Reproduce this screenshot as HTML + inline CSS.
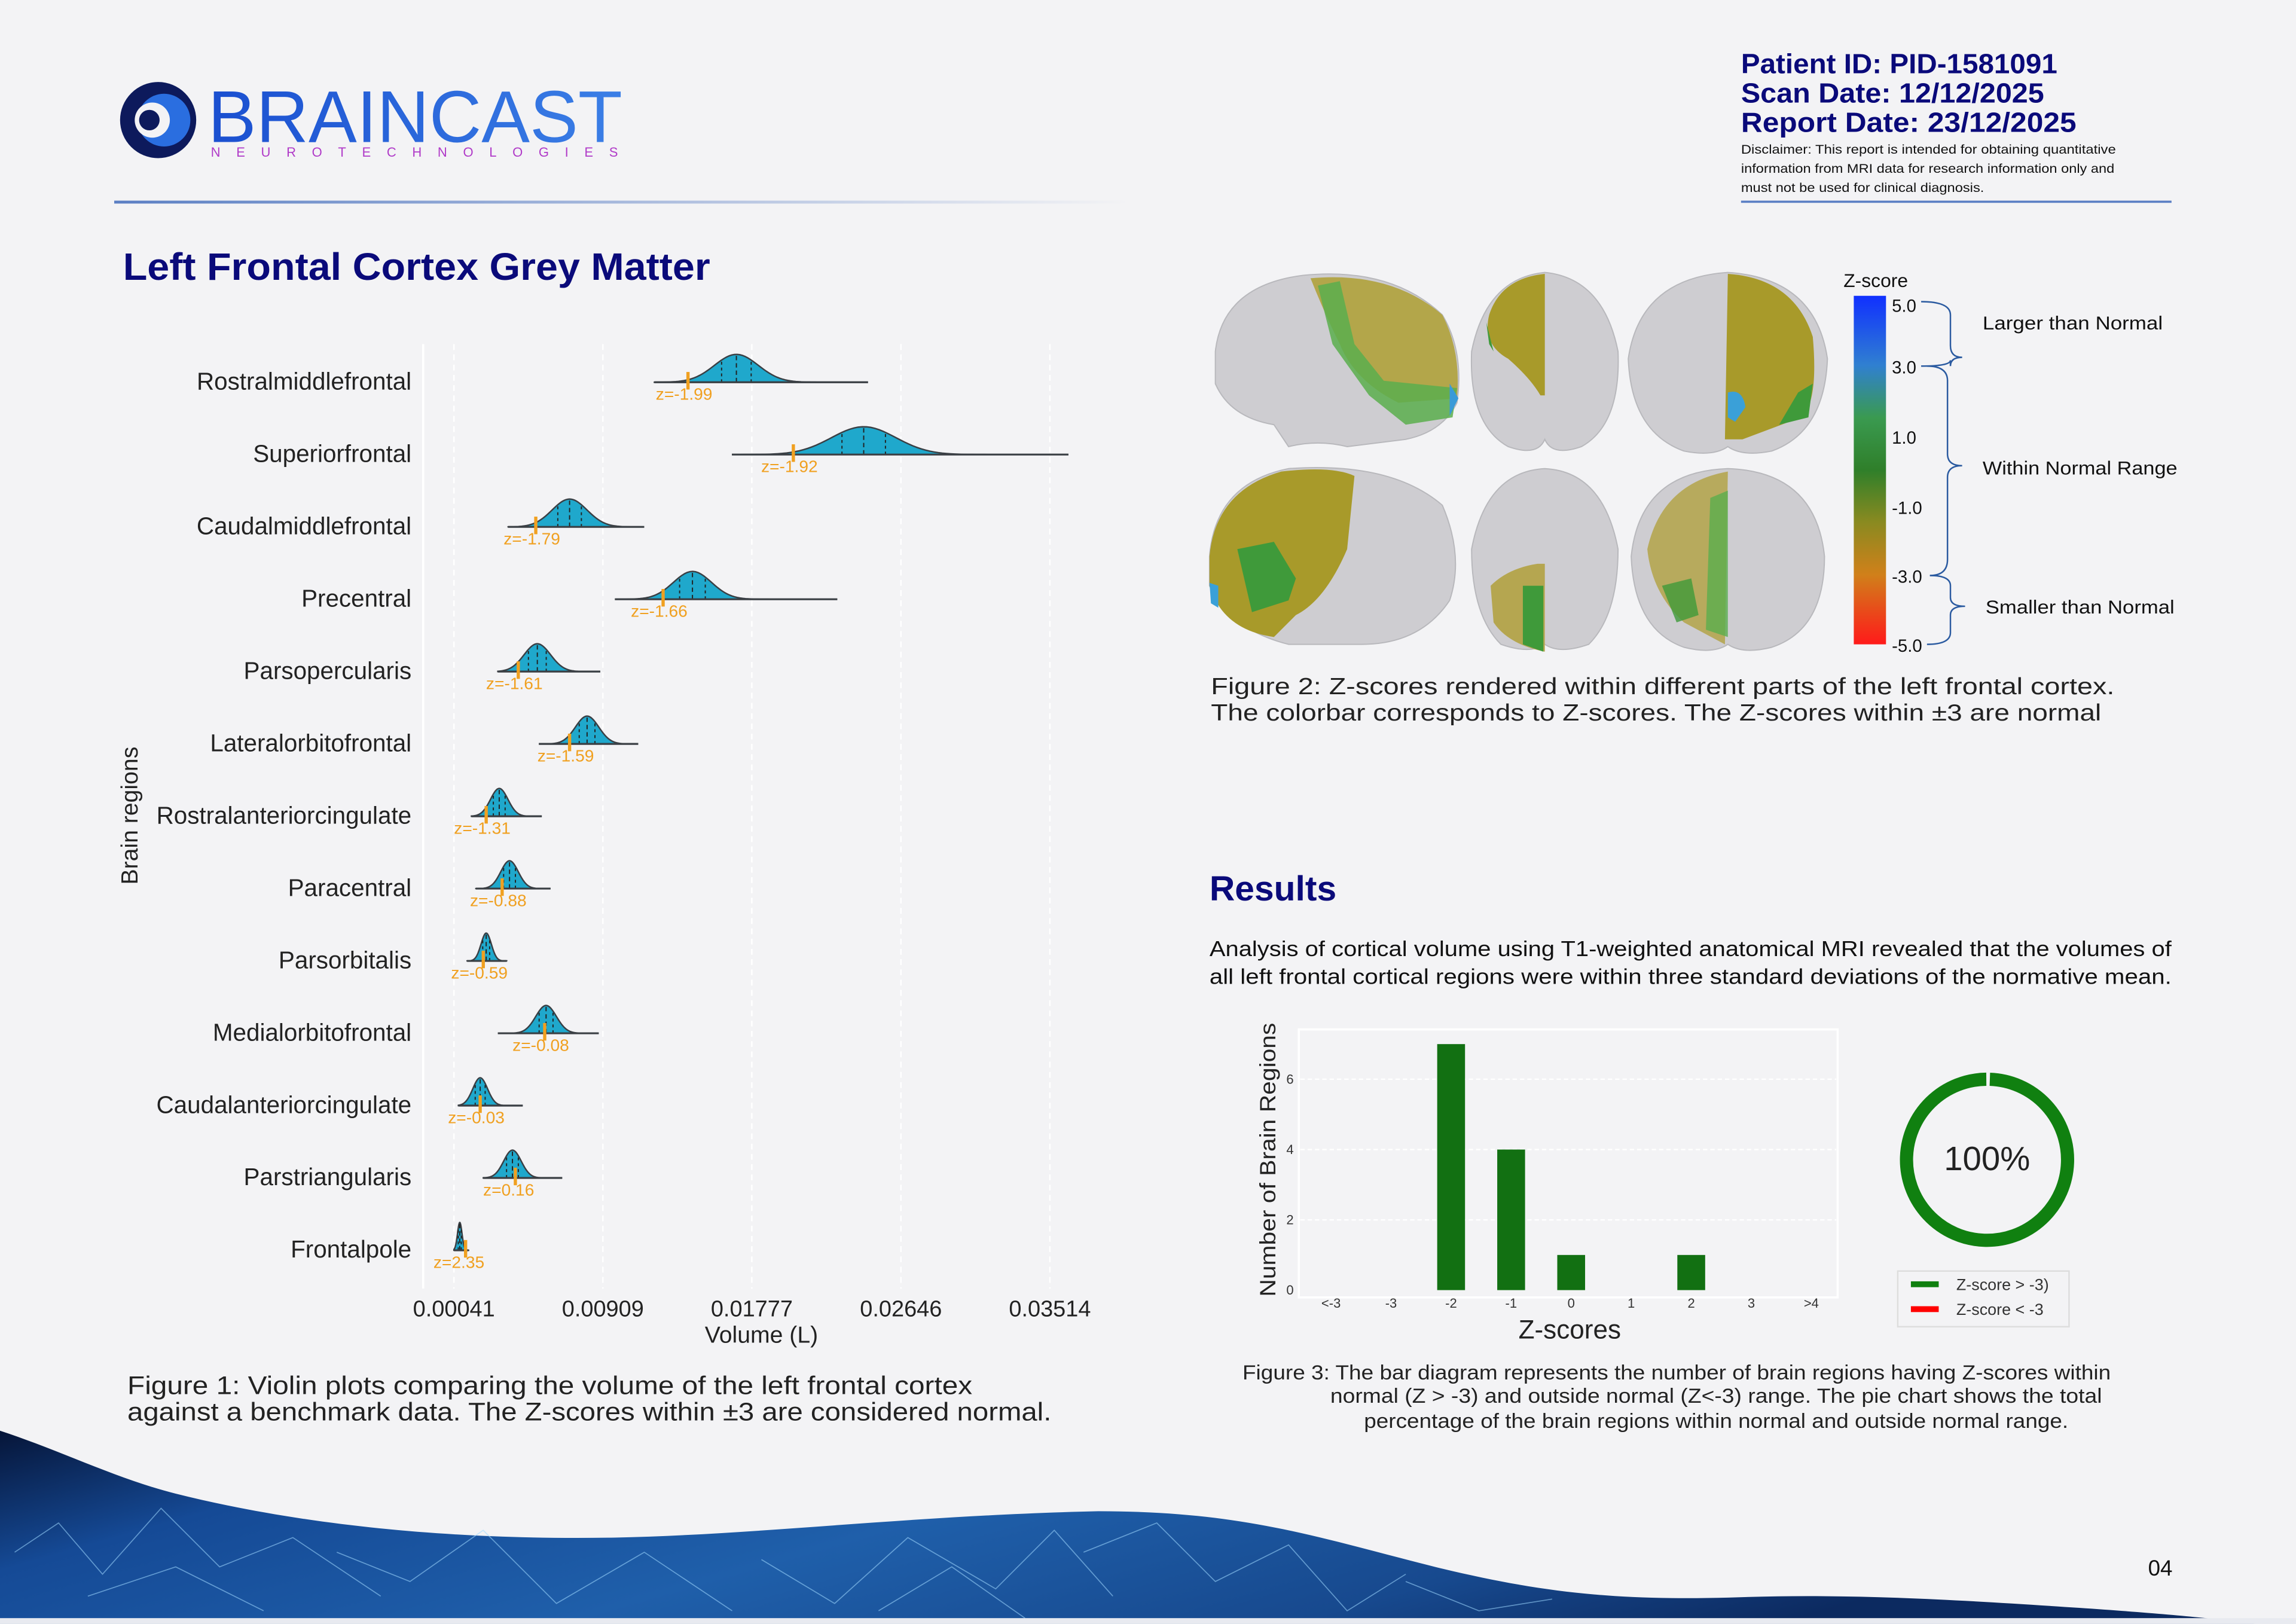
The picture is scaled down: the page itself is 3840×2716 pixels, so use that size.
<!DOCTYPE html>
<html><head><meta charset="utf-8"><style>
html,body{margin:0;padding:0;background:#f3f3f5;}
svg{display:block;font-family:"Liberation Sans",sans-serif;}
</style></head><body>
<svg id="page" xmlns="http://www.w3.org/2000/svg" width="3840" height="2716" viewBox="0 0 1568 1109">
<defs>
<linearGradient id="sep" x1="0" x2="1"><stop offset="0" stop-color="#5b7fc4"/><stop offset="1" stop-color="#5b7fc4" stop-opacity="0"/></linearGradient>
<linearGradient id="cbar" x1="0" y1="0" x2="0" y2="1"><stop offset="0" stop-color="#1030ff"/><stop offset="0.2" stop-color="#3080d0"/><stop offset="0.35" stop-color="#3a9a50"/><stop offset="0.5" stop-color="#2f7f2a"/><stop offset="0.65" stop-color="#8a8a20"/><stop offset="0.8" stop-color="#d0801a"/><stop offset="1" stop-color="#ff1a1a"/></linearGradient>
<linearGradient id="wave" x1="0" y1="0" x2="1" y2="0.3"><stop offset="0" stop-color="#061538"/><stop offset="0.2" stop-color="#154a96"/><stop offset="0.5" stop-color="#1f5faa"/><stop offset="0.8" stop-color="#17498e"/><stop offset="1" stop-color="#0c2a60"/></linearGradient>
<linearGradient id="logoG" x1="0" x2="1"><stop offset="0" stop-color="#1a4fd0"/><stop offset="1" stop-color="#3b7fe6"/></linearGradient>
</defs>
<rect width="1568" height="1109" fill="#f3f3f5"/>

<!-- header -->
<g>
<circle cx="108" cy="82" r="26" fill="#0d1a5c"/>
<circle cx="112" cy="82" r="18" fill="#2a6ee0"/>
<circle cx="104" cy="82" r="12" fill="#f3f3f5"/>
<circle cx="102" cy="82" r="7" fill="#0d1a5c"/>
<text x="142" y="97" font-size="50" fill="url(#logoG)" textLength="283" lengthAdjust="spacingAndGlyphs">BRAINCAST</text>
<text x="144" y="107" font-size="9" fill="#b03ac8" textLength="278" lengthAdjust="spacing">NEUROTECHNOLOGIES</text>
</g>
<rect x="78" y="137" width="692" height="2" fill="url(#sep)"/>
<g font-weight="bold" font-size="19" fill="#0a0a7a">
<text x="1189" y="50" textLength="216" lengthAdjust="spacingAndGlyphs">Patient ID: PID-1581091</text>
<text x="1189" y="70" textLength="207" lengthAdjust="spacingAndGlyphs">Scan Date: 12/12/2025</text>
<text x="1189" y="90" textLength="229" lengthAdjust="spacingAndGlyphs">Report Date: 23/12/2025</text>
</g>
<g font-size="8.6" fill="#111">
<text x="1189" y="105" textLength="256" lengthAdjust="spacingAndGlyphs">Disclaimer: This report is intended for obtaining quantitative</text>
<text x="1189" y="118" textLength="255" lengthAdjust="spacingAndGlyphs">information from MRI data for research information only and</text>
<text x="1189" y="131" textLength="166" lengthAdjust="spacingAndGlyphs">must not be used for clinical diagnosis.</text>
</g>
<rect x="1189" y="137" width="294" height="1.5" fill="#5b7fc4"/>

<text x="84" y="191" font-size="26" font-weight="bold" fill="#0a0a7a" textLength="401" lengthAdjust="spacingAndGlyphs">Left Frontal Cortex Grey Matter</text>

<!-- violin chart -->
<g id="violin">
<rect x="289" y="235" width="461" height="645" fill="#f3f3f5"/>
</g>
<text transform="translate(94,557) rotate(-90)" text-anchor="middle" font-size="16" fill="#222">Brain regions</text>
<text x="520" y="917" text-anchor="middle" font-size="16" fill="#222">Volume (L)</text>
<g font-size="17.5" fill="#222">
<text x="87" y="952" textLength="577" lengthAdjust="spacingAndGlyphs">Figure 1: Violin plots comparing the volume of the left frontal cortex</text>
<text x="87" y="970" textLength="631" lengthAdjust="spacingAndGlyphs">against a benchmark data. The Z-scores within ±3 are considered normal.</text>
</g>

<!-- brain images -->
<g stroke="#b8b8bc" stroke-width="0.8">
<g>
<path d="M830 240 Q835 195 890 188 Q950 182 985 215 Q1000 240 995 275 Q985 295 960 300 L920 305 Q900 300 880 305 L870 290 Q840 285 830 262 Z" fill="#cecdd1"/>
<path d="M895 190 Q950 185 985 215 Q998 240 995 272 L955 275 Q925 260 915 235 Q905 215 895 190Z" fill="#b3a64a" stroke="none"/>
<path d="M900 195 L915 192 L925 235 L945 260 L995 265 L992 285 L960 290 L935 270 L910 235Z" fill="#5aae4e" stroke="none" opacity="0.85"/>
<path d="M990 262 L996 272 L990 284Z" fill="#3a9ad8" stroke="none"/>
</g>
<g>
<path d="M1055 186 Q1015 190 1005 240 Q1003 290 1030 305 Q1050 312 1055 300 Q1060 312 1080 305 Q1107 290 1105 240 Q1095 190 1055 186Z" fill="#cecdd1"/>
<path d="M1055 187 Q1025 190 1017 215 Q1012 235 1030 245 Q1045 258 1052 270 L1055 270Z" fill="#a89a2a" stroke="none"/>
<path d="M1015 220 L1020 240 L1017 235Z" fill="#3f9a3a" stroke="none"/>
</g>
<g>
<path d="M1180 186 Q1120 190 1112 245 Q1114 295 1150 308 Q1170 312 1180 305 Q1190 312 1210 308 Q1246 295 1248 245 Q1240 190 1180 186Z" fill="#cecdd1"/>
<path d="M1180 187 Q1225 190 1238 230 Q1242 275 1230 285 L1190 300 L1178 300 Z" fill="#a89a2a" stroke="none"/>
<path d="M1228 268 L1238 262 L1235 285 L1215 290Z" fill="#3f9a3a" stroke="none"/>
<path d="M1180 268 Q1190 265 1192 278 L1185 288 L1180 285Z" fill="#3aa0d8" stroke="none"/>
</g>
<g>
<path d="M826 380 Q830 330 880 320 Q950 315 985 345 Q1000 380 990 410 Q970 440 930 440 L880 440 Q840 430 826 400Z" fill="#cecdd1"/>
<path d="M826 380 Q830 335 875 322 Q910 318 925 325 L920 375 Q905 410 885 420 L870 435 Q835 430 826 400Z" fill="#a89a2a" stroke="none"/>
<path d="M845 375 L870 370 L885 395 L880 410 L855 418 Z" fill="#3f9a3a" stroke="none"/>
<path d="M826 398 L832 400 L832 415 L827 412Z" fill="#3aa0d8" stroke="none"/>
</g>
<g>
<path d="M1055 320 Q1015 322 1005 375 Q1005 420 1025 440 Q1045 447 1055 440 Q1065 447 1085 440 Q1105 420 1105 375 Q1095 322 1055 320Z" fill="#cecdd1"/>
<path d="M1050 385 L1055 385 L1055 445 Q1030 440 1020 425 L1018 400 Q1030 388 1050 385Z" fill="#b5a650" stroke="none"/>
<path d="M1040 400 L1054 400 L1054 445 L1040 440Z" fill="#3f9a3a" stroke="none"/>
</g>
<g>
<path d="M1180 320 Q1120 322 1114 380 Q1116 430 1150 442 Q1170 447 1180 440 Q1190 447 1210 442 Q1246 430 1246 380 Q1240 322 1180 320Z" fill="#cecdd1"/>
<path d="M1180 322 Q1135 330 1125 375 Q1128 405 1150 425 L1178 440 Z" fill="#b5a650" stroke="none" opacity="0.9"/>
<path d="M1168 340 L1180 335 L1180 435 L1165 430Z" fill="#5aae4e" stroke="none" opacity="0.8"/>
<path d="M1135 400 L1155 395 L1160 420 L1145 425Z" fill="#3f9a3a" stroke="none" opacity="0.8"/>
</g>
</g>

<!-- colorbar -->
<g>
<text x="1281" y="196" text-anchor="middle" font-size="13" fill="#111">Z-score</text>
<rect x="1266" y="202" width="22" height="238" fill="url(#cbar)"/>
<g font-size="12" fill="#111">
<text x="1292" y="213">5.0</text><text x="1292" y="255">3.0</text><text x="1292" y="303">1.0</text><text x="1292" y="351">-1.0</text><text x="1292" y="398">-3.0</text><text x="1292" y="445">-5.0</text>
</g>
<g fill="none" stroke="#2a5aa0" stroke-width="1">
<path d="M1312 206 Q1332 206 1332 215 L1332 236 Q1332 244 1340 244 Q1332 244 1332 250 L1332 246 Q1332 250 1312 250"/>
<path d="M1316 250 Q1330 250 1330 260 L1330 310 Q1330 318 1340 318 Q1330 318 1330 326 L1330 382 Q1330 393 1318 393"/>
<path d="M1318 393 Q1332 393 1332 400 L1332 408 Q1332 414 1342 414 Q1332 414 1332 420 L1332 432 Q1332 440 1316 440"/>
</g>
<g font-size="13" fill="#111"><text x="1354" y="225" textLength="123" lengthAdjust="spacingAndGlyphs">Larger than Normal</text><text x="1354" y="324" textLength="133" lengthAdjust="spacingAndGlyphs">Within Normal Range</text><text x="1356" y="419" textLength="129" lengthAdjust="spacingAndGlyphs">Smaller than Normal</text></g>
</g>
<g font-size="16" fill="#222">
<text x="827" y="474" textLength="617" lengthAdjust="spacingAndGlyphs">Figure 2: Z-scores rendered within different parts of the left frontal cortex.</text>
<text x="827" y="492" textLength="608" lengthAdjust="spacingAndGlyphs">The colorbar corresponds to Z-scores. The Z-scores within ±3 are normal</text>
</g>

<text x="826" y="615" font-size="24" font-weight="bold" fill="#0a0a7a">Results</text>
<g font-size="14.6" fill="#111">
<text x="826" y="653" textLength="657" lengthAdjust="spacingAndGlyphs">Analysis of cortical volume using T1-weighted anatomical MRI revealed that the volumes of</text>
<text x="826" y="672" textLength="657" lengthAdjust="spacingAndGlyphs">all left frontal cortical regions were within three standard deviations of the normative mean.</text>
</g>

<!-- bar chart -->
<g id="bars">
<rect x="887" y="703" width="368" height="183" fill="#f3f3f5" stroke="#fff" stroke-width="1.5"/>
</g>
<text transform="translate(871,792) rotate(-90)" text-anchor="middle" font-size="15" fill="#222" textLength="187" lengthAdjust="spacingAndGlyphs">Number of Brain Regions</text>
<text x="1072" y="914" text-anchor="middle" font-size="18" fill="#222">Z-scores</text>

<!-- donut -->
<g>
<circle cx="1357" cy="792" r="55" fill="none" stroke="#108010" stroke-width="9" stroke-dasharray="343 3.5" transform="rotate(-88 1357 792)"/>
<text x="1357" y="799" text-anchor="middle" font-size="23" fill="#222">100%</text>
</g>
<g>
<rect x="1296" y="868" width="117" height="38" fill="#f3f3f5" stroke="#ddd"/>
<rect x="1305" y="875" width="19" height="4" fill="#108010"/><text x="1336" y="881" font-size="11" fill="#333">Z-score &gt; -3)</text>
<rect x="1305" y="892" width="19" height="4" fill="#ff0000"/><text x="1336" y="898" font-size="11" fill="#333">Z-score &lt; -3</text>
</g>
<g font-size="14" fill="#222" text-anchor="middle">
<text x="1145" y="942" textLength="593" lengthAdjust="spacingAndGlyphs">Figure 3: The bar diagram represents the number of brain regions having Z-scores within</text>
<text x="1172" y="958" textLength="527" lengthAdjust="spacingAndGlyphs">normal (Z &gt; -3) and outside normal (Z&lt;-3) range.  The pie chart shows the total</text>
<text x="1172" y="975" textLength="481" lengthAdjust="spacingAndGlyphs">percentage of the brain regions within normal and outside normal range.</text>
</g>

<!-- wave -->
<g>
<path d="M0 977 C40 990 80 1010 120 1020 C200 1040 300 1052 420 1050 C520 1048 620 1035 750 1032 C850 1032 900 1050 980 1070 C1050 1087 1100 1093 1180 1091 C1260 1088 1330 1092 1420 1098 C1480 1102 1520 1106 1540 1109 L0 1109 Z" fill="url(#wave)"/>
<g stroke="#9fd8ff" stroke-width="0.7" fill="none" opacity="0.55">
<path d="M10 1060 L40 1040 L70 1075 L110 1030 L150 1070 L200 1050 L260 1090"/><path d="M230 1060 L280 1080 L330 1045 L380 1095 L440 1060 L500 1100"/>
<path d="M520 1065 L570 1095 L620 1050 L680 1085 L720 1045 L760 1090"/><path d="M740 1060 L790 1040 L830 1080 L880 1055 L920 1100 L960 1075"/>
<path d="M960 1080 L1010 1100 L1060 1092"/><path d="M60 1090 L120 1070 L180 1100"/><path d="M600 1100 L650 1070 L700 1105"/>
</g>
<rect x="0" y="1105" width="1568" height="4" fill="#e8eaf0"/>
</g>
<text x="1467" y="1076" font-size="15" fill="#111">04</text>

<script>
const regions = ["Rostralmiddlefrontal","Superiorfrontal","Caudalmiddlefrontal","Precentral","Parsopercularis","Lateralorbitofrontal","Rostralanteriorcingulate","Paracentral","Parsorbitalis","Medialorbitofrontal","Caudalanteriorcingulate","Parstriangularis","Frontalpole"];
const mins = [0.01209,0.01661,0.00357,0.00979,0.00297,0.00536,0.00143,0.00169,0.00118,0.00297,0.00067,0.00212,0.00041];
const maxs = [0.02454,0.03622,0.01150,0.02275,0.00894,0.01115,0.00553,0.00604,0.00348,0.00885,0.00442,0.00672,0.00126];
const means = [0.01687,0.02429,0.00715,0.01431,0.00527,0.00817,0.00305,0.00365,0.00229,0.00578,0.00194,0.00382,0.00075];
const sds = [0.00128,0.00188,0.00102,0.00111,0.00077,0.00068,0.00051,0.00051,0.00030,0.00060,0.00043,0.00051,0.00013];
const patient = [0.01405,0.02019,0.00518,0.01260,0.00416,0.00715,0.00229,0.00322,0.00212,0.00570,0.00194,0.00399,0.00109];
const zscores = ["-1.99","-1.92","-1.79","-1.66","-1.61","-1.59","-1.31","-0.88","-0.59","-0.08","-0.03","0.16","2.35"];
const xTicks = [0.00041,0.00909,0.01777,0.02646,0.03514];
const xTickLabels = ["0.00041","0.00909","0.01777","0.02646","0.03514"];

const binLabels = ["<-3","-3","-2","-1","0","1","2","3",">4"];
const binCounts = [0,0,7,4,1,0,1,0,0];
const yTicks = [0,2,4,6];

const NS="http://www.w3.org/2000/svg";
function mk(tag,attrs,parent){const e=document.createElementNS(NS,tag);for(const k in attrs)e.setAttribute(k,attrs[k]);parent.appendChild(e);return e;}

// violin
const vg=document.getElementById('violin');
const X0=310,X1=717;
function xs(v){return X0+(v-xTicks[0])/(xTicks[4]-xTicks[0])*(X1-X0);}
function ys(i){return 261+i*49.4;}
xTicks.forEach((t,i)=>{
  const l=mk('line',{x1:xs(t),x2:xs(t),y1:235,y2:880,stroke:'#fff','stroke-dasharray':'4 3','stroke-width':1},vg);
  
  
  const tx=mk('text',{x:xs(t),y:899,'text-anchor':'middle','font-size':15.5,fill:'#222'},vg);
  tx.textContent=xTickLabels[i];
  
  
});
const ax=mk('line',{x1:289,x2:289,y1:235,y2:880,stroke:'#fff','stroke-width':1.5},vg);


const H=19;
regions.forEach((r,i)=>{
  const b=ys(i);
  const lab=mk('text',{x:281,y:b+5,'text-anchor':'end','font-size':16.5,fill:'#222'},vg);
  lab.textContent=r;
  
  
  const g=mk('g',{},vg);
  
  
  let d='M'+xs(mins[i])+' '+b;
  const N=80;
  for(let k=0;k<=N;k++){
    const v=mins[i]+(maxs[i]-mins[i])*k/N;
    const z=(v-means[i])/sds[i];
    d+=' L'+xs(v).toFixed(2)+' '+(b-H*Math.exp(-z*z/2)).toFixed(2);
  }
  d+=' L'+xs(maxs[i])+' '+b+' Z';
  mk('path',{d:d,fill:'#1fa8cc',stroke:'#3a3f44','stroke-width':1},g);
  [-0.674,0,0.674].forEach(q=>{
    const v=means[i]+q*sds[i];
    const hh=H*Math.exp(-q*q/2);
    mk('line',{x1:xs(v),x2:xs(v),y1:b,y2:b-hh,stroke:'#222','stroke-width':0.8,'stroke-dasharray':q===0?'3 2':'2 2'},g);
  });
  mk('line',{x1:xs(mins[i]),x2:xs(maxs[i]),y1:b,y2:b,stroke:'#3a3f44','stroke-width':1.3},g);
  const px=xs(patient[i]);
  const pm=mk('line',{x1:px,x2:px,y1:b-7,y2:b+5,stroke:'#f0a020','stroke-width':2.2},vg);
  
  
  const zl=mk('text',{x:px-22,y:b+12,'font-size':11.5,fill:'#f0a020'},vg);
  zl.textContent='z='+zscores[i];
  
  
});

// bars
const bg=document.getElementById('bars');
function bx(i){return 909+i*41;}
function by(v){return 881-v*24;}
yTicks.forEach(t=>{
  if(t>0){const gl=mk('line',{x1:888,x2:1254,y1:by(t),y2:by(t),stroke:'#fff','stroke-dasharray':'3 2','stroke-width':1},bg);
  
  }
  const tl=mk('text',{x:881,y:by(t)+3,'text-anchor':'middle','font-size':9,fill:'#333'},bg);
  tl.textContent=t;
  
  
});
binLabels.forEach((l,i)=>{
  const tl=mk('text',{x:bx(i),y:893,'text-anchor':'middle','font-size':9,fill:'#333'},bg);
  tl.textContent=l;
  
  
  if(binCounts[i]>0){
    const rc=mk('rect',{x:bx(i)-9.5,y:by(binCounts[i]),width:19,height:binCounts[i]*24,fill:'#127012'},bg);
    
    
  }
});
</script>
</svg>
</body></html>
